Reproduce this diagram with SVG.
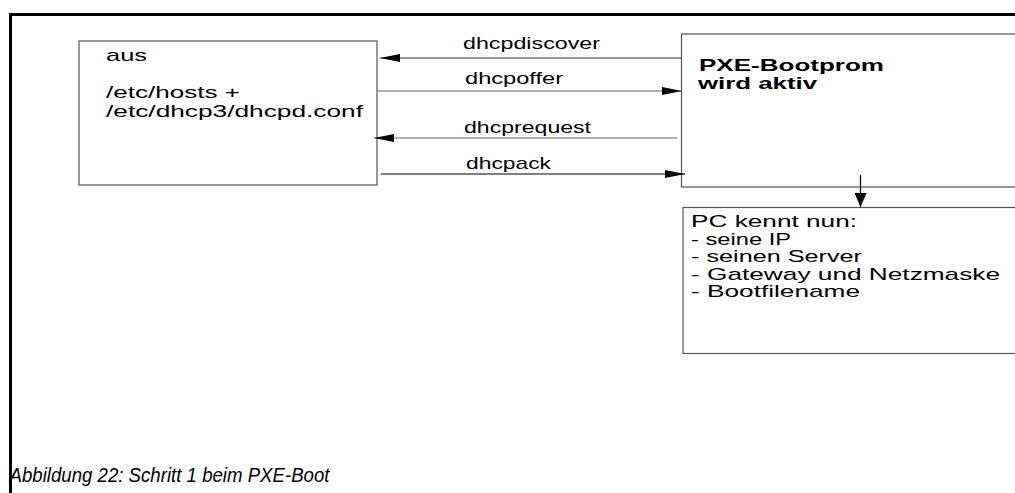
<svg xmlns="http://www.w3.org/2000/svg" width="1015" height="493" viewBox="0 0 1015 493">
<style>
.box{fill:#fff;stroke:#555;stroke-width:1.2}
.t{font-family:"Liberation Sans",Arial,sans-serif;font-size:17px;fill:#000}
.b{font-weight:bold;font-size:16.5px}
.cap{font-family:"Liberation Sans",Arial,sans-serif;font-size:19.5px;font-style:italic;fill:#000}
.ln{fill:none;stroke-width:1.2}
</style>
<defs>
<marker id="ah" viewBox="0 0 20 8" refX="20" refY="4" markerWidth="20" markerHeight="8" markerUnits="userSpaceOnUse" orient="auto">
<path d="M0,0 L20,4 L0,8 Z" fill="#000"/>
</marker>
<marker id="av" viewBox="0 0 14 12" refX="14" refY="6" markerWidth="14" markerHeight="12" markerUnits="userSpaceOnUse" orient="auto">
<path d="M0,0 L14,6 L0,12 Z" fill="#000"/>
</marker>
</defs>
<rect x="0" y="0" width="1015" height="493" fill="#fff"/>
<g id="frame">
<path d="M10.5,1000 L10.5,14.5 L1100,14.5" fill="none" stroke="#000" stroke-width="3"/>
</g>
<g id="server">
<rect class="box" x="79" y="41" width="298" height="144"/>
<text class="t" x="106" y="60.5" textLength="41" lengthAdjust="spacingAndGlyphs">aus</text>
<text class="t" x="106" y="98" textLength="134" lengthAdjust="spacingAndGlyphs">/etc/hosts +</text>
<text class="t" x="106" y="116.5" textLength="257" lengthAdjust="spacingAndGlyphs">/etc/dhcp3/dhcpd.conf</text>
</g>
<g id="pxe">
<rect class="box" x="681.5" y="34" width="400" height="153"/>
<text class="t b" x="699" y="71" textLength="185" lengthAdjust="spacingAndGlyphs">PXE-Bootprom</text>
<text class="t b" x="698" y="88.5" textLength="119" lengthAdjust="spacingAndGlyphs">wird aktiv</text>
</g>
<g id="pc">
<rect class="box" x="683" y="207.5" width="400" height="146"/>
<text class="t" x="691" y="227" textLength="166" lengthAdjust="spacingAndGlyphs">PC kennt nun:</text>
<text class="t" x="691" y="244.5" textLength="100" lengthAdjust="spacingAndGlyphs">- seine IP</text>
<text class="t" x="691" y="262" textLength="171" lengthAdjust="spacingAndGlyphs">- seinen Server</text>
<text class="t" x="691" y="279.5" textLength="309" lengthAdjust="spacingAndGlyphs">- Gateway und Netzmaske</text>
<text class="t" x="691" y="297" textLength="169" lengthAdjust="spacingAndGlyphs">- Bootfilename</text>
</g>
<g id="connectors">
<line class="ln" x1="681.5" y1="58" x2="380" y2="58" stroke="#333" marker-end="url(#ah)"/>
<line class="ln" x1="378" y1="91" x2="682" y2="91" stroke="#666" marker-end="url(#ah)"/>
<line class="ln" x1="677" y1="138" x2="374" y2="138" stroke="#666" marker-end="url(#ah)"/>
<line class="ln" x1="381" y1="174" x2="685" y2="174" stroke="#000" marker-end="url(#ah)"/>
<line class="ln" x1="860.5" y1="175" x2="860.5" y2="207" stroke="#000" marker-end="url(#av)"/>
<text class="t" x="463" y="49" textLength="137" lengthAdjust="spacingAndGlyphs">dhcpdiscover</text>
<text class="t" x="465" y="84" textLength="98" lengthAdjust="spacingAndGlyphs">dhcpoffer</text>
<text class="t" x="464" y="133" textLength="127" lengthAdjust="spacingAndGlyphs">dhcprequest</text>
<text class="t" x="466" y="168.5" textLength="85" lengthAdjust="spacingAndGlyphs">dhcpack</text>
</g>
<g id="caption">
<text class="cap" x="9.5" y="482" textLength="320" lengthAdjust="spacingAndGlyphs">Abbildung 22: Schritt 1 beim PXE-Boot</text>
</g>
</svg>
